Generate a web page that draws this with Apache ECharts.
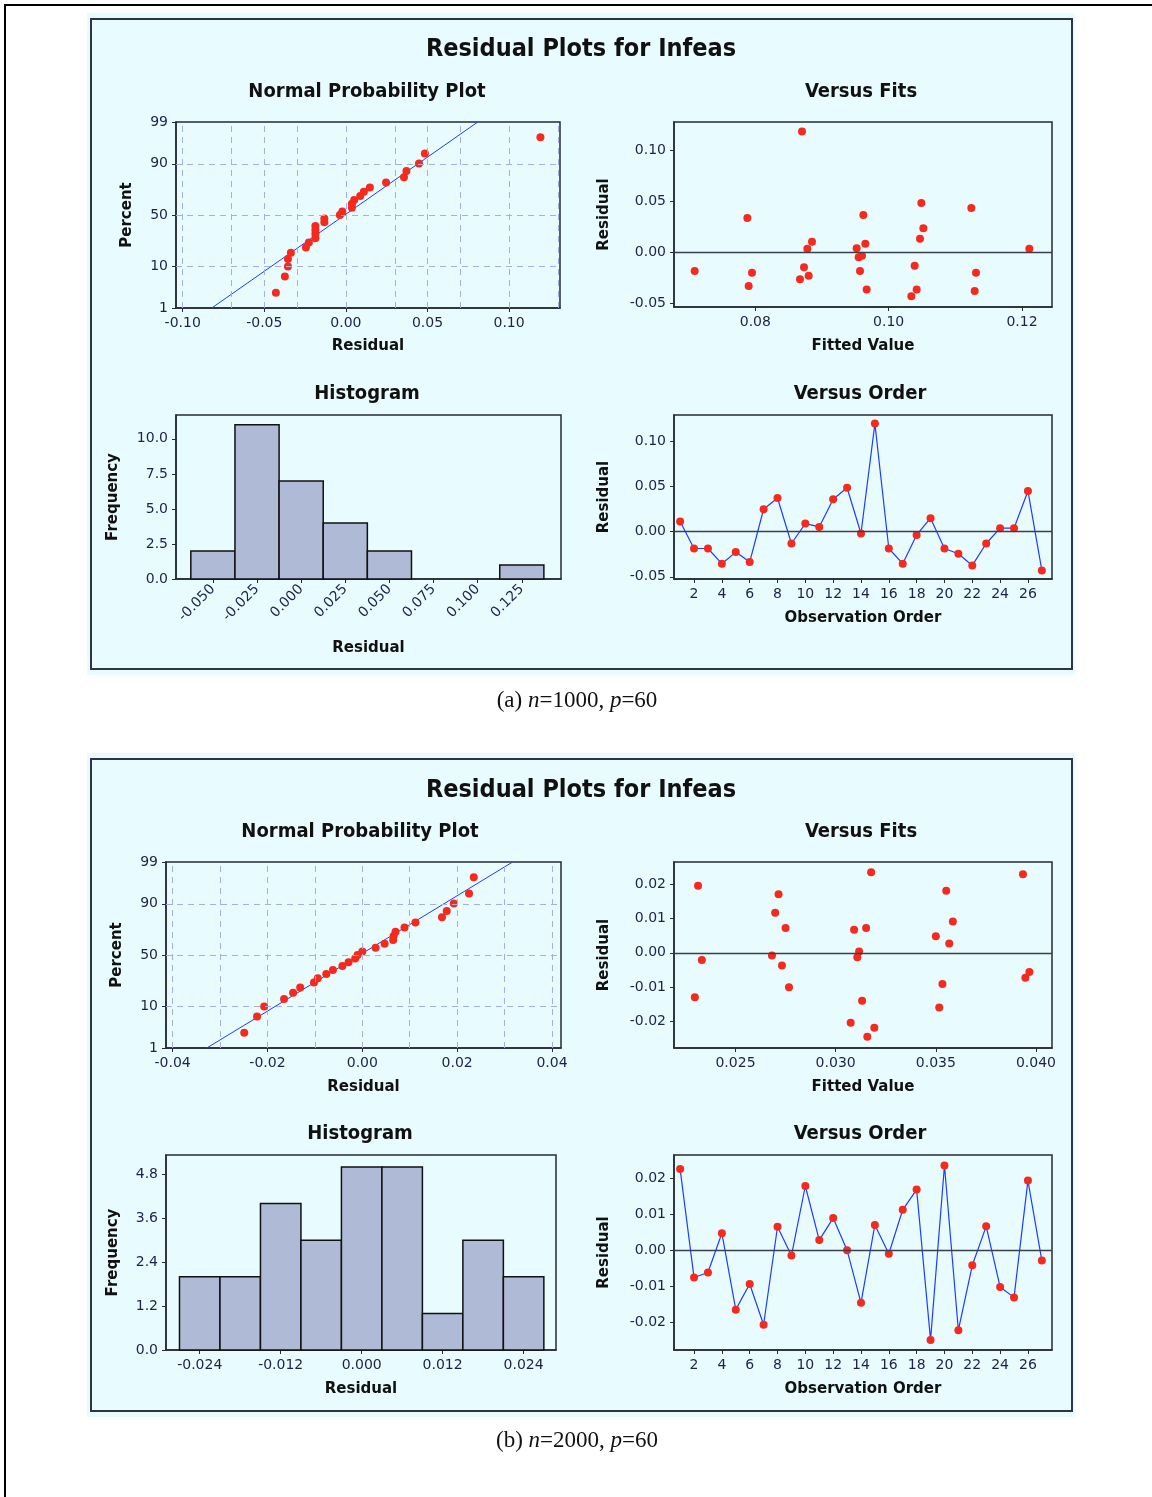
<!DOCTYPE html>
<html><head><meta charset="utf-8">
<script src="https://cdn.jsdelivr.net/npm/echarts@6/dist/echarts.min.js"></script>
<style>html,body{margin:0;padding:0;background:#fff}#c{width:1152px;height:1497px}</style>
</head><body><div id="c"></div><script>
// ---------------- data ----------------
const pctPositions = [2.6, 6.2, 9.9, 13.5, 17.2, 20.8, 24.5, 28.1, 31.8, 35.4, 39.1, 42.7, 46.4, 50.0, 53.6, 57.3, 61.0, 64.6, 68.3, 71.9, 75.5, 79.2, 82.8, 86.5, 90.1, 93.8, 97.4];
const pctTicks = [1, 10, 50, 90, 99];
const pctGrid = [10, 50, 90];
const orderTicks = [2, 4, 6, 8, 10, 12, 14, 16, 18, 20, 22, 24, 26];

// (a) n=1000, p=60
const residA = [0.0110, -0.0187, -0.0187, -0.0355, -0.0227, -0.0337, 0.0246, 0.0371, -0.0132, 0.0088, 0.0051, 0.0356, 0.0484, -0.0022, 0.1192, -0.0187, -0.0355, -0.0037, 0.0147, -0.0187, -0.0245, -0.0374, -0.0132, 0.0037, 0.0037, 0.0448, -0.0429];
const fitLineA = [-0.0822, 0.0808];
const fitsXA = [0.0709, 0.0788, 0.0790, 0.0795, 0.0870, 0.0867, 0.0873, 0.0878, 0.0885, 0.0880, 0.0952, 0.0955, 0.0960, 0.0957, 0.0962, 0.0965, 0.0967, 0.1034, 0.1042, 0.1039, 0.1047, 0.1049, 0.1052, 0.1124, 0.1131, 0.1129, 0.1211];
const fitsYA = [-0.0187, 0.0334, -0.0334, -0.0203, 0.1183, -0.0268, -0.0150, 0.0033, 0.0102, -0.0232, 0.0036, -0.0052, -0.0036, -0.0187, 0.0364, 0.0082, -0.0367, -0.0435, -0.0367, -0.0134, 0.0131, 0.0482, 0.0233, 0.0432, -0.0203, -0.0383, 0.0033];
const histCentersA = [-0.050, -0.025, 0.000, 0.025, 0.050, 0.075, 0.100, 0.125];
const histCountsA = [2, 11, 7, 4, 2, 0, 0, 1];
const histBinA = 0.025;
const normXTicksA = [-0.10, -0.05, 0.00, 0.05, 0.10];
const normGridXA = [-0.100, -0.075, -0.050, -0.025, 0.000, 0.025, 0.050, 0.075, 0.100, 0.125];
const fitsXTicksA = [0.08, 0.10, 0.12];
const residTicksA = [-0.05, 0.00, 0.05, 0.10];
const histYTicksA = [0, 2.5, 5, 7.5, 10];

// (b) n=2000, p=60
const residB = [0.0225, -0.0076, -0.0062, 0.0047, -0.0165, -0.0094, -0.0207, 0.0065, -0.0015, 0.0178, 0.0028, 0.0089, 0.0000, -0.0146, 0.0070, -0.0010, 0.0112, 0.0168, -0.0249, 0.0235, -0.0222, -0.0042, 0.0066, -0.0102, -0.0131, 0.0193, -0.0029];
const fitLineB = [-0.0328, 0.0317];
const fitsXB = [0.02313, 0.02332, 0.02297, 0.02715, 0.02698, 0.02750, 0.02682, 0.02732, 0.02767, 0.03092, 0.03152, 0.03177, 0.03117, 0.03108, 0.03132, 0.03075, 0.03158, 0.03193, 0.03500, 0.03567, 0.03552, 0.03585, 0.03533, 0.03517, 0.03935, 0.03947, 0.03967];
const fitsYB = [0.0196, -0.0021, -0.0130, 0.0171, 0.0117, 0.0072, -0.0008, -0.0037, -0.0101, 0.0067, 0.0072, 0.0235, 0.0004, -0.0013, -0.0140, -0.0204, -0.0245, -0.0219, 0.0048, 0.0027, 0.0181, 0.0091, -0.0091, -0.0160, 0.0229, -0.0073, -0.0056];
const histCentersB = [-0.024, -0.018, -0.012, -0.006, 0.000, 0.006, 0.012, 0.018, 0.024];
const histCountsB = [2, 2, 4, 3, 5, 5, 1, 3, 2];
const histBinB = 0.006;
const normXTicksB = [-0.04, -0.02, 0.00, 0.02, 0.04];
const normGridXB = [-0.04, -0.03, -0.02, -0.01, 0.00, 0.01, 0.02, 0.03, 0.04];
const fitsXTicksB = [0.025, 0.030, 0.035, 0.040];
const residTicksB = [-0.02, -0.01, 0.00, 0.01, 0.02];
const histXTicksB = [-0.024, -0.012, 0.000, 0.012, 0.024];
const histYTicksB = [0, 1.2, 2.4, 3.6, 4.8];

// ---------------- probability scale (inverse normal) ----------------
function zOf(pct) {
  const p = pct / 100;
  const a = [-3.969683028665376e+01, 2.209460984245205e+02, -2.759285104469687e+02, 1.383577518672690e+02, -3.066479806614716e+01, 2.506628277459239e+00];
  const b = [-5.447609879822406e+01, 1.615858368580409e+02, -1.556989798598866e+02, 6.680131188771972e+01, -1.328068155288572e+01];
  const c = [-7.784894002430293e-03, -3.223964580411365e-01, -2.400758277161838e+00, -2.549732539343734e+00, 4.374664141464968e+00, 2.938163982698783e+00];
  const d = [7.784695709041462e-03, 3.224671290700398e-01, 2.445134137142996e+00, 3.754408661907416e+00];
  const pl = 0.02425;
  let q, r;
  if (p < pl) {
    q = Math.sqrt(-2 * Math.log(p));
    return (((((c[0]*q+c[1])*q+c[2])*q+c[3])*q+c[4])*q+c[5]) / ((((d[0]*q+d[1])*q+d[2])*q+d[3])*q+1);
  } else if (p <= 1 - pl) {
    q = p - 0.5; r = q * q;
    return (((((a[0]*r+a[1])*r+a[2])*r+a[3])*r+a[4])*r+a[5])*q / (((((b[0]*r+b[1])*r+b[2])*r+b[3])*r+b[4])*r+1);
  } else {
    q = Math.sqrt(-2 * Math.log(1 - p));
    return -(((((c[0]*q+c[1])*q+c[2])*q+c[3])*q+c[4])*q+c[5]) / ((((d[0]*q+d[1])*q+d[2])*q+d[3])*q+1);
  }
}

// ---------------- styles ----------------
const FONT = '"DejaVu Sans", Verdana, sans-serif';
const axisCol = '#252a36';
const labCol = '#1f2148';
const dotCol = '#f62a1c';
const blueCol = '#1f3cff';
const dashCol = '#a6aee8';
const barCol = '#aebad6';
const panelBg = '#e8fbfe';
const borderCol = '#2d3447';

function fmt(v, dec) { if (Math.abs(v) < 1e-12) v = 0; return v.toFixed(dec); }

function vAxis(gi, min, max, ticks, dec, name, nameGap, extra) {
  const ax = {
    type: 'value', gridIndex: gi, min: min, max: max,
    name: name, nameLocation: 'middle', nameGap: nameGap,
    nameTextStyle: { fontFamily: FONT, fontWeight: 'bold', fontSize: 15, color: '#111' },
    axisLine: { show: true, onZero: false, lineStyle: { color: axisCol, width: 1.5 } },
    axisTick: { show: true, length: 4, customValues: ticks, lineStyle: { color: axisCol, width: 1 } },
    axisLabel: { customValues: ticks, formatter: function (v) { return fmt(v, dec); }, color: labCol, fontFamily: FONT, fontSize: 14, margin: 8 },
    splitLine: { show: false }
  };
  if (extra && extra.axisLabel) Object.assign(ax.axisLabel, extra.axisLabel);
  return ax;
}

const zTicks = pctTicks.map(zOf);
function probAxis(gi, nameGap) {
  const ax = vAxis(gi, zOf(1), zOf(99), zTicks, 0, 'Percent', nameGap);
  ax.axisLabel.formatter = function (v) {
    for (let i = 0; i < zTicks.length; i++) if (Math.abs(zTicks[i] - v) < 1e-6) return String(pctTicks[i]);
    return '';
  };
  return ax;
}

const grids = [
  { left: 176, top: 122, width: 384, height: 186 },   // A normal
  { left: 674, top: 122, width: 378, height: 185 },   // A fits
  { left: 176, top: 415, width: 385, height: 164 },   // A hist
  { left: 674, top: 415, width: 378, height: 164 },   // A order
  { left: 166, top: 862, width: 395, height: 186 },   // B normal
  { left: 674, top: 862, width: 378, height: 186 },   // B fits
  { left: 166, top: 1155, width: 390, height: 195 },  // B hist
  { left: 674, top: 1155, width: 378, height: 195 }   // B order
].map(g => Object.assign({ show: true, borderColor: axisCol, borderWidth: 1.5, backgroundColor: 'transparent', containLabel: false }, g));

const xAxes = [
  vAxis(0, -0.1041, 0.1312, normXTicksA, 2, 'Residual', 31),
  vAxis(1, 0.0678, 0.1245, fitsXTicksA, 2, 'Fitted Value', 32),
  vAxis(2, -0.0709, 0.1472, histCentersA, 3, 'Residual', 62, { axisLabel: { rotate: 45, fontSize: 14 } }),
  vAxis(3, 0.56, 27.73, orderTicks, 0, 'Observation Order', 32),
  vAxis(4, -0.0414, 0.0419, normXTicksB, 2, 'Residual', 32),
  vAxis(5, 0.02193, 0.0408, fitsXTicksB, 3, 'Fitted Value', 32),
  vAxis(6, -0.0290, 0.0288, histXTicksB, 3, 'Residual', 32),
  vAxis(7, 0.56, 27.73, orderTicks, 0, 'Observation Order', 32)
];
const yAxes = [
  probAxis(0, 41),
  vAxis(1, -0.054, 0.1277, residTicksA, 2, 'Residual', 62),
  vAxis(2, 0, 11.7, histYTicksA, 1, 'Frequency', 55),
  vAxis(3, -0.0524, 0.1287, residTicksA, 2, 'Residual', 62),
  probAxis(4, 41),
  vAxis(5, -0.0278, 0.0265, residTicksB, 2, 'Residual', 62),
  vAxis(6, 0, 5.326, histYTicksB, 1, 'Frequency', 45),
  vAxis(7, -0.0277, 0.0264, residTicksB, 2, 'Residual', 62)
];

function dashLines(gridX) {
  return {
    silent: true, symbol: ['none', 'none'], label: { show: false }, animation: false,
    lineStyle: { color: dashCol, type: [6, 5], width: 1 },
    emphasis: { disabled: true },
    data: gridX.map(v => ({ xAxis: v })).concat(pctGrid.map(p => ({ yAxis: zOf(p) })))
  };
}
function zeroLine() {
  return {
    silent: true, symbol: ['none', 'none'], label: { show: false }, animation: false,
    lineStyle: { color: '#3a3f4f', type: 'solid', width: 1.3 },
    emphasis: { disabled: true },
    data: [{ yAxis: 0 }]
  };
}
const dotStyle = { color: dotCol, opacity: 1 };
function normalSeries(idx, resid, fitLine, gridX) {
  const sorted = resid.slice().sort((a, b) => a - b);
  return [
    { type: 'line', xAxisIndex: idx, yAxisIndex: idx, symbol: 'none', z: 2,
      lineStyle: { color: blueCol, width: 1 },
      data: [[fitLine[0], zOf(1)], [fitLine[1], zOf(99)]],
      markLine: dashLines(gridX) },
    { type: 'scatter', xAxisIndex: idx, yAxisIndex: idx, symbolSize: 8, z: 3,
      itemStyle: dotStyle,
      data: sorted.map((r, i) => [r, zOf(pctPositions[i])]) }
  ];
}
function fitsSeries(idx, xs, ys) {
  return { type: 'scatter', xAxisIndex: idx, yAxisIndex: idx, symbolSize: 8, z: 3,
    itemStyle: dotStyle, data: xs.map((x, i) => [x, ys[i]]), markLine: zeroLine() };
}
function orderSeries(idx, resid) {
  return { type: 'line', xAxisIndex: idx, yAxisIndex: idx, symbol: 'circle', symbolSize: 8, showAllSymbol: true, z: 3,
    itemStyle: dotStyle, lineStyle: { color: blueCol, width: 1.2 },
    data: resid.map((r, i) => [i + 1, r]), markLine: zeroLine() };
}
function histSeries(idx, centers, counts, w) {
  return { type: 'custom', xAxisIndex: idx, yAxisIndex: idx, z: 2,
    data: centers.map((c, i) => [c, counts[i]]),
    renderItem: function (params, api) {
      const c = api.value(0), h = api.value(1);
      if (!h) return null;
      const p0 = api.coord([c - w / 2, h]);
      const p1 = api.coord([c + w / 2, 0]);
      return { type: 'rect', shape: { x: p0[0], y: p0[1], width: p1[0] - p0[0], height: p1[1] - p0[1] },
        style: { fill: barCol, stroke: '#111', lineWidth: 1.5 } };
    } };
}

const series = [].concat(
  normalSeries(0, residA, fitLineA, normGridXA),
  [fitsSeries(1, fitsXA, fitsYA), histSeries(2, histCentersA, histCountsA, histBinA), orderSeries(3, residA)],
  normalSeries(4, residB, fitLineB, normGridXB),
  [fitsSeries(5, fitsXB, fitsYB), histSeries(6, histCentersB, histCountsB, histBinB), orderSeries(7, residB)]
);

const TFONT = '"DejaVu Sans Condensed", "DejaVu Sans", sans-serif';
function txt(t, x, y, size) {
  return { type: 'text', x: x, y: y, z: 10, silent: true,
    style: { text: t, font: 'bold ' + size + 'px ' + TFONT, fill: '#111', align: 'center', verticalAlign: 'middle' } };
}
function caption(letter, n, y) {
  const f = '23px "Liberation Serif", "Times New Roman", serif';
  return { type: 'text', x: 577, y: y, z: 10, silent: true,
    style: { text: '{r|(' + letter + ') }{i|n}{r|=' + n + ', }{i|p}{r|=60}', align: 'center', verticalAlign: 'middle',
      rich: { r: { font: f, fill: '#111' }, i: { font: 'italic ' + f, fill: '#111' } } } };
}

const graphic = [
  { type: 'line', z: -5, silent: true, shape: { x1: 4, y1: 5, x2: 1152, y2: 5 }, style: { stroke: '#000', lineWidth: 2 } },
  { type: 'line', z: -5, silent: true, shape: { x1: 5, y1: 4, x2: 5, y2: 1497 }, style: { stroke: '#000', lineWidth: 2 } },
  { type: 'rect', z: -10, silent: true, shape: { x: 87, y: 13, width: 988, height: 662 }, style: { fill: panelBg } },
  { type: 'rect', z: -9, silent: true, shape: { x: 91, y: 19, width: 981, height: 650 }, style: { fill: panelBg, stroke: borderCol, lineWidth: 2 } },
  { type: 'rect', z: -10, silent: true, shape: { x: 87, y: 753, width: 988, height: 664 }, style: { fill: panelBg } },
  { type: 'rect', z: -9, silent: true, shape: { x: 91, y: 759, width: 981, height: 652 }, style: { fill: panelBg, stroke: borderCol, lineWidth: 2 } },
  txt('Residual Plots for Infeas', 581, 49, 25),
  txt('Normal Probability Plot', 367, 92, 20),
  txt('Versus Fits', 861, 92, 20),
  txt('Histogram', 367, 394, 20),
  txt('Versus Order', 860, 394, 20),
  txt('Residual Plots for Infeas', 581, 790, 25),
  txt('Normal Probability Plot', 360, 832, 20),
  txt('Versus Fits', 861, 832, 20),
  txt('Histogram', 360, 1134, 20),
  txt('Versus Order', 860, 1134, 20),
  caption('a', '1000', 701),
  caption('b', '2000', 1441)
];

const chart = echarts.init(document.getElementById('c'), null, { renderer: 'canvas' });
chart.setOption({
  animation: false,
  backgroundColor: '#ffffff',
  grid: grids,
  xAxis: xAxes,
  yAxis: yAxes,
  series: series,
  graphic: graphic
});
</script></body></html>
